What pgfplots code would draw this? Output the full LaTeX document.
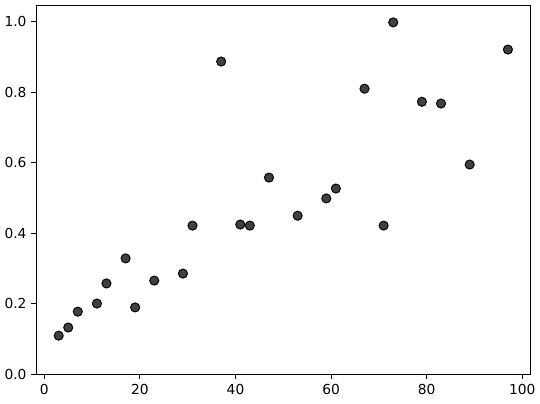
\documentclass[border=0pt]{standalone}
\usepackage{fontspec}
\setmainfont{DejaVu Sans}
\usepackage{pgfplots}
\pgfplotsset{compat=1.18}
\definecolor{Dot}{HTML}{404040}

\begin{document}
\begin{tikzpicture}
  \begin{axis}[
    scale only axis,
    width=357.1bp, height=266.4bp,
    xmin=-1.7, xmax=101.7,
    ymin=0, ymax=1.045,
    xtick={0,20,40,60,80,100},
    ytick={0,0.2,0.4,0.6,0.8,1.0},
    yticklabel style={/pgf/number format/.cd,fixed,fixed zerofill,precision=1},
    /pgf/number format/assume math mode=true,
    tick label style={font=\fontsize{10}{12}\selectfont},
    tick align=outside, tickwidth=3.5pt,
    major tick style={line width=0.8pt,black},
    axis line style={line width=0.8pt},
    xtick pos=bottom, ytick pos=left,
    xticklabel shift=0pt, yticklabel shift=0pt,
  ]
    \coordinate (ll) at (rel axis cs:0,0);
    \coordinate (ur) at (rel axis cs:1,1);
    \addplot[only marks, mark=*, mark size=3.3pt,
             mark options={fill=Dot, draw=black, line width=0.7pt}]
      coordinates {
        (3,0.110) (5,0.133) (7,0.178) (11,0.201) (13,0.258) (17,0.329)
        (19,0.190) (23,0.266) (29,0.286) (31,0.422) (37,0.887) (41,0.425)
        (43,0.422) (47,0.558) (53,0.450) (59,0.499) (61,0.527) (67,0.810)
        (71,0.422) (73,0.998) (79,0.773) (83,0.768) (89,0.595) (97,0.921)
      };
  \end{axis}
  \path ([shift={(-25.2bp,-20.9bp)}]ll) rectangle ([shift={(6.5bp,4.2bp)}]ur);
\end{tikzpicture}
\end{document}
